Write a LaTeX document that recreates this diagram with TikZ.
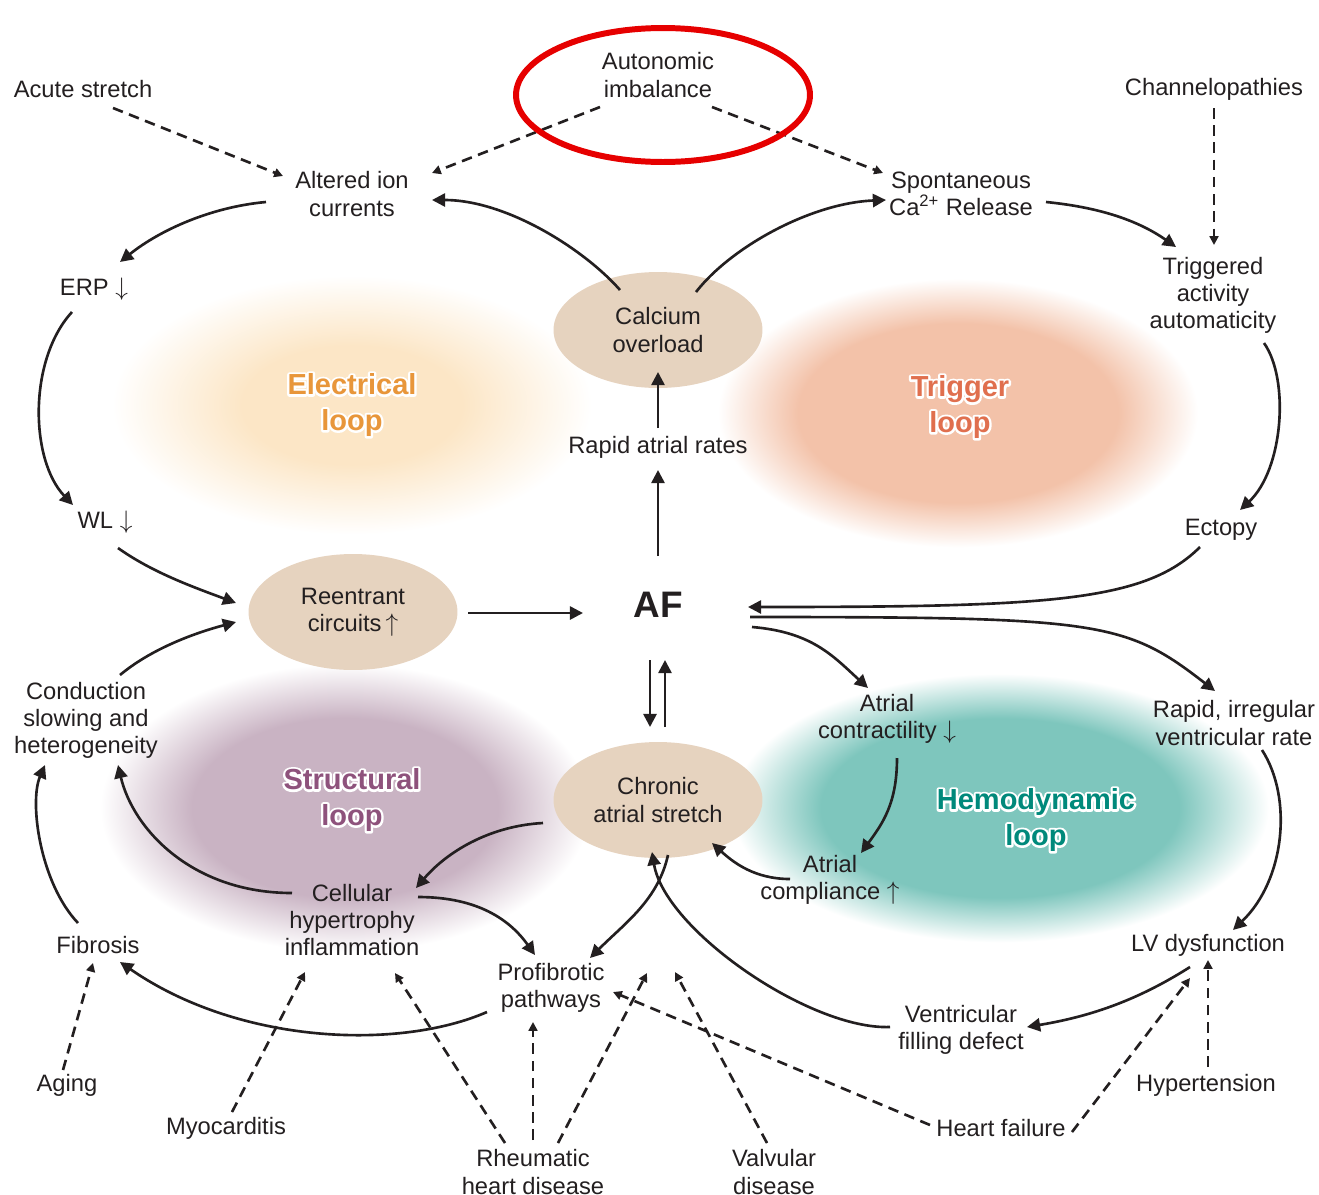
\documentclass[tikz,border=0pt]{standalone}
\usepackage{fontspec}
\setmainfont{Liberation Sans}
\usetikzlibrary{arrows.meta,calc,shapes.geometric}
\definecolor{ink}{HTML}{231F20}
\definecolor{bubble}{HTML}{E6D3BF}
\definecolor{elecB}{HTML}{FCE6C6}
\definecolor{trigB}{HTML}{F3C2A9}
\definecolor{strB}{HTML}{C9B3C3}
\definecolor{hemB}{HTML}{7EC6BD}
\definecolor{elecT}{HTML}{E8963A}
\definecolor{trigT}{HTML}{E06F4E}
\definecolor{strT}{HTML}{8E527C}
\definecolor{hemT}{HTML}{00897B}
\definecolor{ringred}{HTML}{E60000}
\pgfdeclareradialshading{blobE}{\pgfpoint{0cm}{0cm}}{color(0bp)=(elecB);color(11bp)=(elecB);color(24bp)=(white);color(25bp)=(white)}
\pgfdeclareradialshading{blobT}{\pgfpoint{0cm}{0cm}}{color(0bp)=(trigB);color(16bp)=(trigB);color(24bp)=(white);color(25bp)=(white)}
\pgfdeclareradialshading{blobS}{\pgfpoint{0cm}{0cm}}{color(0bp)=(strB);color(15bp)=(strB);color(24bp)=(white);color(25bp)=(white)}
\pgfdeclareradialshading{blobH}{\pgfpoint{0cm}{0cm}}{color(0bp)=(hemB);color(16bp)=(hemB);color(24bp)=(white);color(25bp)=(white)}
\tikzset{
  txt/.style={text=ink, align=center, font=\fontsize{13.5}{15.4}\selectfont, inner sep=1pt},
  bub/.style={txt, ellipse, fill=bubble, minimum width=4.18cm, minimum height=2.32cm, inner sep=0pt},
  afnode/.style={text=ink, font=\bfseries\fontsize{21}{24}\selectfont, inner sep=1pt},
  lbl/.style={align=center, font=\bfseries\fontsize{16.5}{20.4}\selectfont, inner sep=0pt},
  con/.style={draw=ink, line width=1.5pt, -{Triangle[length=7.5pt,width=7.5pt]}},
  dcon/.style={draw=ink, line width=1.5pt, dash pattern=on 6pt off 3.8pt, -{Triangle[length=5pt,width=5pt]}},
}
\newcommand\looplabel[4]{%
  \node[lbl,text=white] at (#2) {\special{pdf:literal direct 1 j 2.6 w 1 1 1 RG 2 Tr}#4};
  \node[lbl,text=#3] (#1) at (#2) {#4};}
\begin{document}
\begin{tikzpicture}[x=0.02cm,y=-0.02cm]
\useasboundingbox (0,0) rectangle (1319,1194);
% blobs
\shade[shading=blobE] (352,405) ellipse (5cm and 2.7cm);
\shade[shading=blobT] (958,413) ellipse (5cm and 2.8cm);
\shade[shading=blobS] (345,808) ellipse (5.1cm and 3cm);
\shade[shading=blobH] (1000,808) ellipse (5.6cm and 2.8cm);
% loop labels
\looplabel{elec}{352,405}{elecT}{Electrical\\loop}
\looplabel{trigl}{960,407}{trigT}{Trigger\\loop}
\looplabel{strl}{352,800}{strT}{Structural\\loop}
\looplabel{heml}{1036,820}{hemT}{Hemodynamic\\loop}
% nodes
\node[txt] (acute) at (83,89) {Acute stretch};
\node[txt] (auto) at (658,75) {Autonomic\\imbalance};
\node[txt] (chan) at (1214,89) {Channelopathies};
\node[txt] (alt) at (352,194) {Altered ion\\currents};
\node[txt] (spon) at (961,194) {Spontaneous\\Ca\textsuperscript{2+} Release};
\node[txt] (erp) at (94,289) {ERP $\downarrow$};
\node[bub] (cal) at (658,330) {Calcium\\overload};
\node[txt] (trig) at (1213,295) {Triggered\\activity\\automaticity};
\node[txt] (rar) at (658,447) {Rapid atrial rates};
\node[txt] (wl) at (105,522) {WL $\downarrow$};
\node[txt] (ect) at (1221,530) {Ectopy};
\node[bub] (reen) at (353,612) {Reentrant\\circuits\,$\uparrow$};
\node[afnode] (af) at (658,605) {AF};
\node[txt] (cond) at (86,720) {Conduction\\slowing and\\heterogeneity};
\node[txt] (acon) at (887,719) {Atrial\\contractility $\downarrow$};
\node[txt] (rir) at (1234,723) {Rapid, irregular\\ventricular rate};
\node[bub] (chr) at (658,800) {Chronic\\atrial stretch};
\node[txt] (acomp) at (830,880) {Atrial\\compliance $\uparrow$};
\node[txt] (cell) at (352,920) {Cellular\\hypertrophy\\inflammation};
\node[txt] (fib) at (98,945) {Fibrosis};
\node[txt] (lv) at (1208,945) {LV dysfunction};
\node[txt] (pro) at (551,988) {Profibrotic\\pathways};
\node[txt] (vfd) at (961,1030) {Ventricular\\filling defect};
\node[txt] (aging) at (67,1085) {Aging};
\node[txt] (hyp) at (1206,1085) {Hypertension};
\node[txt] (myo) at (226,1128) {Myocarditis};
\node[txt] (hf) at (1001,1128) {Heart failure};
\node[txt] (rhd) at (533,1172) {Rheumatic\\heart disease};
\node[txt] (vd) at (774,1172) {Valvular\\disease};
% top dashed
\draw[dcon] ($(acute)+(30,19)$) -- ($(alt)+(-69,-18)$);
\draw[dcon] ($(auto)+(-58,32)$) -- ($(alt)+(80,-21)$);
\draw[dcon] ($(auto)+(54,32)$) -- ($(spon)+(-78,-21)$);
\draw[dcon] ($(chan)+(0,19)$) -- ($(trig)+(1,-50)$);
% electrical / trigger loops
\draw[con] ($(alt)+(-86,8)$) .. controls +(-55,5) and +(40,-32) .. ($(erp)+(26,-27)$);
\draw[con] ($(cal)+(-38,-40)$) .. controls +(-35,-40) and +(75,0) .. ($(alt)+(80,6)$);
\draw[con] ($(cal)+(38,-38)$) .. controls +(35,-45) and +(-75,3) .. ($(spon)+(-75,6)$);
\draw[con] ($(spon)+(85,8)$) .. controls +(50,5) and +(-40,-28) .. ($(trig)+(-37,-48)$);
\draw[con] ($(erp)+(-22,23)$) .. controls +(-44,48) and +(-43,-45) .. ($(wl)+(-32,-17)$);
\draw[con] ($(trig)+(51,48)$) .. controls +(26,37) and +(43,-40) .. ($(ect)+(19,-20)$);
\draw[con] ($(rar)+(0,-19)$) -- ($(cal)+(0,42)$);
\draw[con] ($(af)+(0,-49)$) -- ($(rar)+(0,23)$);
\draw[con] ($(wl)+(13,26)$) .. controls +(35,25) and +(-40,-15) .. ($(reen)+(-117,-9)$);
\draw[con] ($(reen)+(115,1)$) -- ($(af)+(-75,8)$);
\draw[con] ($(ect)+(-21,17)$) .. controls +(-55,55) and +(300,0) .. ($(af)+(90,2)$);
% hemodynamic loop
\draw[con] ($(af)+(92,12)$) .. controls +(350,0) and +(-90,-70) .. ($(rir)+(-19,-32)$);
\draw[con] ($(af)+(94,22)$) .. controls +(60,5) and +(-35,-32) .. ($(acon)+(-19,-31)$);
\draw[con] ($(af)+(-8,55)$) -- ($(chr)+(-8,-73)$);
\draw[con] ($(chr)+(7,-73)$) -- ($(af)+(7,55)$);
\draw[con] ($(acon)+(10,39)$) .. controls +(0,45) and +(22,-30) .. ($(acomp)+(31,-27)$);
\draw[con] ($(acomp)+(-40,-1)$) .. controls +(-35,0) and +(22,20) .. ($(chr)+(54,43)$);
\draw[con] ($(rir)+(28,27)$) .. controls +(31,48) and +(52,-50) .. ($(lv)+(25,-15)$);
\draw[con] ($(lv)+(-18,22)$) .. controls +(-55,35) and +(60,-10) .. ($(vfd)+(66,-3)$);
\draw[con] ($(vfd)+(-71,-3)$) .. controls +(-80,3) and +(13,78) .. ($(chr)+(-6,52)$);
% structural loop
\draw[con] ($(chr)+(-115,23)$) .. controls +(-55,3) and +(30,-35) .. ($(cell)+(64,-32)$);
\draw[con] ($(cond)+(34,-45)$) .. controls +(30,-25) and +(-45,12) .. ($(reen)+(-117,10)$);
\draw[con] ($(cell)+(-60,-27)$) .. controls +(-100,0) and +(15,64) .. ($(cond)+(32,45)$);
\draw[con] ($(fib)+(-20,-22)$) .. controls +(-38,-40) and +(-16,37) .. ($(cond)+(-41,45)$);
\draw[con] ($(cell)+(66,-23)$) .. controls +(60,0) and +(-25,-35) .. ($(pro)+(-16,-33)$);
\draw[con] ($(chr)+(10,55)$) .. controls +(-10,45) and +(35,-35) .. ($(pro)+(39,-30)$);
\draw[con] ($(pro)+(-64,24)$) .. controls +(-87,38) and +(120,83) .. ($(fib)+(22,17)$);
% bottom dashed
\draw[dcon] ($(aging)+(-4,-15)$) -- ($(fib)+(-5,18)$);
\draw[dcon] ($(myo)+(6,-16)$) -- ($(cell)+(-47,52)$);
\draw[dcon] ($(rhd)+(-28,-29)$) -- ($(cell)+(43,53)$);
\draw[dcon] ($(rhd)+(0,-32)$) -- ($(pro)+(-18,34)$);
\coordinate (rhdend) at (647,973);
\draw[dcon] ($(rhd)+(25,-29)$) -- (rhdend);
\coordinate (vdend) at (675,972);
\draw[dcon] ($(vd)+(-7,-29)$) -- (vdend);
\draw[dcon] ($(hf)+(-71,-3)$) -- ($(pro)+(62,4)$);
\draw[dcon] ($(hf)+(71,4)$) -- ($(lv)+(-18,33)$);
\draw[dcon] ($(hyp)+(2,-18)$) -- ($(lv)+(0,15)$);
% red highlight ring
\draw[ringred, line width=3.4pt] (663,95) ellipse (2.94cm and 1.34cm);
\end{tikzpicture}
\end{document}
